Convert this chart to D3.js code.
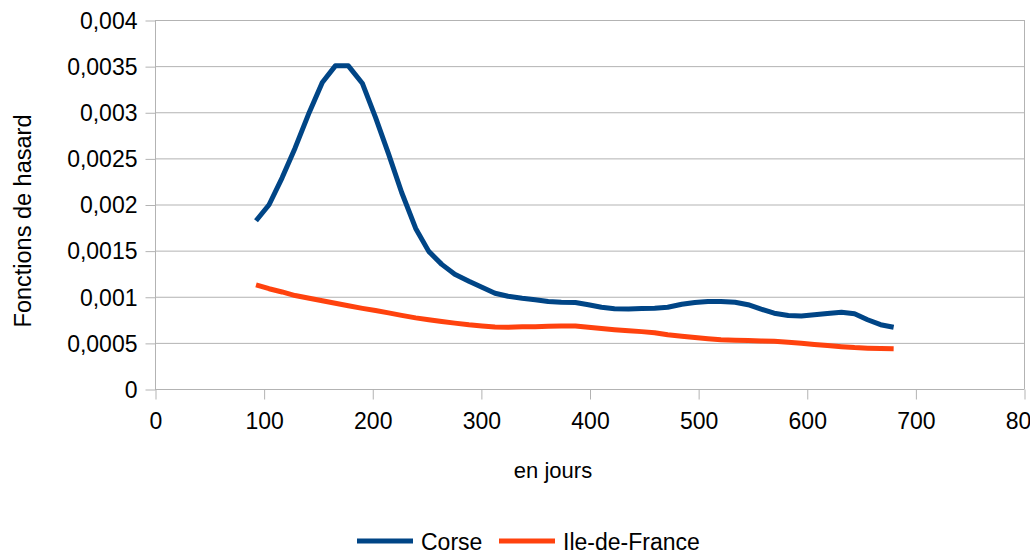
<!DOCTYPE html>
<html>
<head>
<meta charset="utf-8">
<script src="https://cdn.jsdelivr.net/npm/d3@7"></script>
<style>
  html, body { margin: 0; padding: 0; background: #fff; }
  svg { display: block; font-family: "Liberation Sans", Arial, sans-serif; }
</style>
</head>
<body>
<svg id="chart" width="1030" height="555"></svg>
<script>
// ---- data ----
const days = [93, 105, 117, 129, 142, 154, 166, 178, 191, 203, 215, 227, 240, 252, 264, 276,
  289, 301, 313, 325, 338, 350, 362, 374, 387, 399, 411, 423, 436, 448, 460, 472,
  485, 497, 509, 521, 534, 546, 558, 570, 583, 595, 607, 619, 632, 644, 656, 668, 680];

const corse = [0.001824, 0.001997, 0.002289, 0.002613, 0.002998, 0.003322, 0.003503, 0.003503,
  0.003311, 0.002944, 0.002548, 0.002133, 0.001741, 0.001492, 0.001351, 0.001243,
  0.001168, 0.001103, 0.001038, 0.001005, 0.000984, 0.000968, 0.000949, 0.000941,
  0.000937, 0.000914, 0.000886, 0.000870, 0.000868, 0.000872, 0.000876, 0.000886,
  0.000919, 0.000938, 0.000949, 0.000949, 0.000941, 0.000914, 0.000865, 0.000822,
  0.000796, 0.000791, 0.000804, 0.000818, 0.000832, 0.000816, 0.000751, 0.000697, 0.000670];

const ileDeFrance = [0.001128, 0.001087, 0.001052, 0.001013, 0.000984, 0.000956, 0.000930, 0.000902,
  0.000874, 0.000851, 0.000825, 0.000798, 0.000771, 0.000751, 0.000732, 0.000714,
  0.000696, 0.000683, 0.000672, 0.000670, 0.000674, 0.000676, 0.000681, 0.000684,
  0.000683, 0.000670, 0.000655, 0.000643, 0.000631, 0.000622, 0.000610, 0.000589,
  0.000573, 0.000558, 0.000545, 0.000534, 0.000529, 0.000525, 0.000521, 0.000517,
  0.000508, 0.000497, 0.000483, 0.000471, 0.000459, 0.000449, 0.000443, 0.000439, 0.000436];

const xTicks = [0, 100, 200, 300, 400, 500, 600, 700, 800];
const yTicks = [0, 0.0005, 0.001, 0.0015, 0.002, 0.0025, 0.003, 0.0035, 0.004];
const yTickLabels = ["0", "0,0005", "0,001", "0,0015", "0,002", "0,0025", "0,003", "0,0035", "0,004"];
const seriesNames = ["Corse", "Ile-de-France"];
const seriesColors = ["#004586", "#ff420e"];
const xTitle = "en jours";
const yTitle = "Fonctions de hasard";

// ---- layout ----
(function () {
const svg = d3.select("#chart");
const pLeft = 155, pRight = 1024, pTop = 20, pBottom = 389;
const x = d3.scaleLinear().domain([0, 800]).range([pLeft, pRight]);
const y = d3.scaleLinear().domain([0, 0.004]).range([pBottom, pTop]);
const gridColor = "#b3b3b3";

// grid lines
svg.append("g").selectAll("line").data(yTicks).join("line")
  .attr("x1", pLeft).attr("x2", pRight)
  .attr("y1", d => y(d) + 0.5).attr("y2", d => y(d) + 0.5)
  .attr("stroke", gridColor).attr("stroke-width", 1);

// right border
svg.append("line").attr("x1", pRight + 0.5).attr("x2", pRight + 0.5)
  .attr("y1", y(0.004)).attr("y2", y(0))
  .attr("stroke", gridColor);

// y axis
const yAxis = d3.axisLeft(y).tickValues(yTicks).tickSize(10).tickPadding(8)
  .tickFormat((d, i) => yTickLabels[i]);
const gy = svg.append("g").attr("transform", `translate(${pLeft + 0.5},0.5)`).call(yAxis);
gy.select(".domain").attr("stroke", gridColor).attr("d", `M0,${pTop}V${pBottom}`);
gy.selectAll(".tick line").attr("stroke", gridColor);
gy.selectAll(".tick text").attr("font-size", 23).attr("fill", "#000")
  .attr("font-family", "Liberation Sans, Arial, sans-serif").attr("dy", "0.34em");

// x axis
const xAxis = d3.axisBottom(x).tickValues(xTicks).tickSize(10).tickPadding(13)
  .tickFormat(d3.format("d"));
const gx = svg.append("g").attr("transform", `translate(0.5,${pBottom + 0.5})`).call(xAxis);
gx.select(".domain").attr("stroke", gridColor).attr("d", `M${pLeft},0H${pRight}`);
gx.selectAll(".tick line").attr("stroke", gridColor);
gx.selectAll(".tick text").attr("font-size", 23).attr("fill", "#000")
  .attr("font-family", "Liberation Sans, Arial, sans-serif");

// lines
const series = [corse, ileDeFrance];
const line = d3.line().x((d, i) => x(days[i])).y(d => y(d));
series.forEach((s, k) => {
  svg.append("path").datum(s)
    .attr("d", line)
    .attr("fill", "none")
    .attr("stroke", seriesColors[k])
    .attr("stroke-width", 5)
    .attr("stroke-linejoin", "round");
});

// axis titles
svg.append("text").attr("x", 553).attr("y", 478).attr("text-anchor", "middle")
  .attr("font-size", 22).attr("fill", "#000").text(xTitle);
svg.append("text").attr("transform", "translate(31,221) rotate(-90)")
  .attr("text-anchor", "middle").attr("font-size", 23.5).attr("fill", "#000").text(yTitle);

// legend
const legendItems = [
  { name: seriesNames[0], color: seriesColors[0], x0: 357 },
  { name: seriesNames[1], color: seriesColors[1], x0: 499 }
];
const lg = svg.append("g");
legendItems.forEach(it => {
  lg.append("line").attr("x1", it.x0).attr("x2", it.x0 + 56)
    .attr("y1", 541).attr("y2", 541)
    .attr("stroke", it.color).attr("stroke-width", 5);
  lg.append("text").attr("x", it.x0 + 64).attr("y", 550)
    .attr("font-size", 23).attr("fill", "#000").text(it.name);
});
})();
</script>
</body>
</html>
